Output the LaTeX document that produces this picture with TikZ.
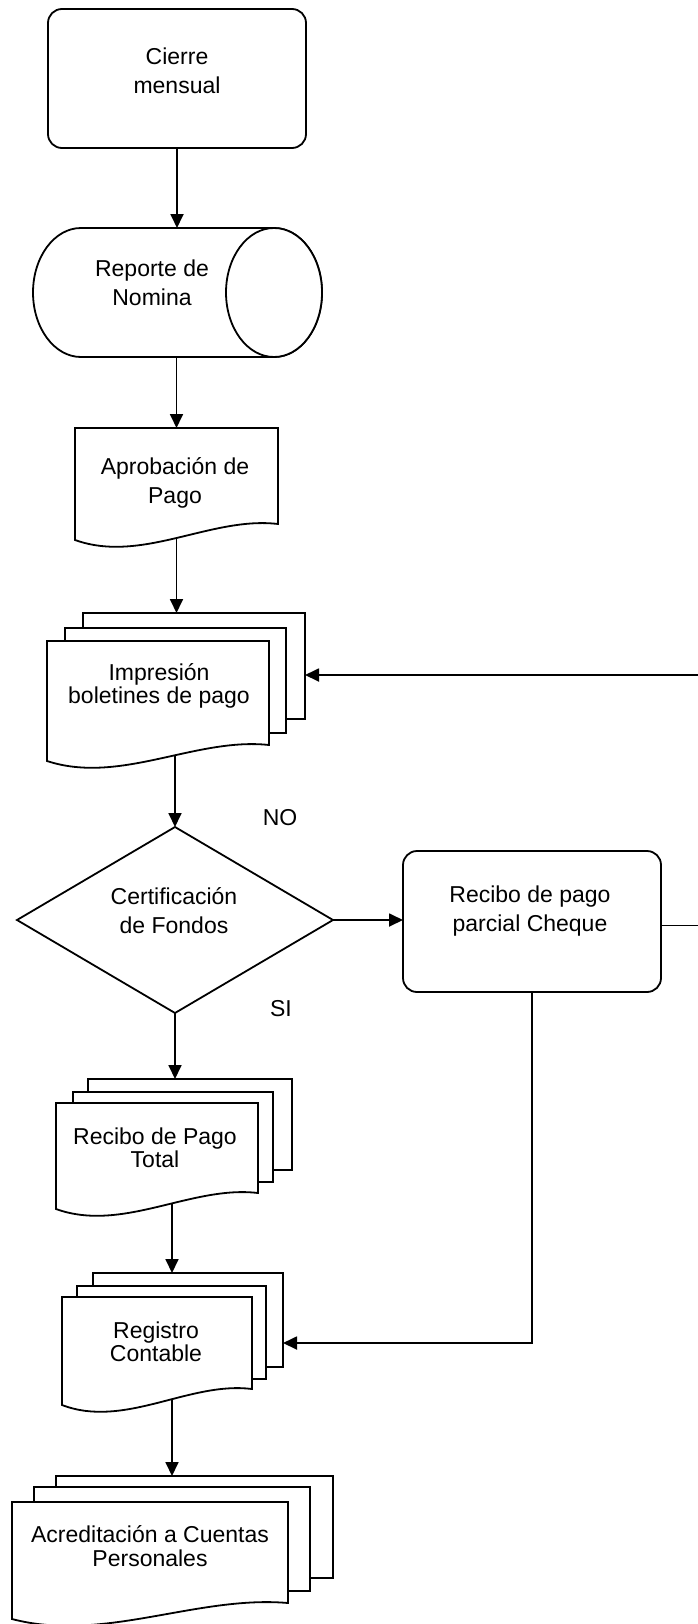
\documentclass[tikz,border=0pt]{standalone}
\usepackage{fontspec}
\setmainfont{Liberation Sans}
\usetikzlibrary{arrows.meta,shapes.geometric,calc}
\pgfdeclarelayer{backdrop}
\pgfdeclarelayer{links}
\pgfsetlayers{backdrop,links,main}

\tikzset{
  shapeline/.style={draw=black, line width=1.8pt, fill=white, line join=miter},
  bx/.style={rectangle, inner sep=0pt, outer sep=0pt},
  sheet/.style={bx, shapeline},
  procbox/.style={bx, shapeline, rounded corners=14pt},
  decision/.style={diamond, shapeline, inner sep=0pt, outer sep=0pt},
  txt/.style={inner sep=0pt, align=center, font=\fontsize{23}{29}\selectfont},
  txtm/.style={inner sep=0pt, align=center, font=\fontsize{23}{23.5}\selectfont},
  arrowline/.style={draw=black, line width=1.8pt, -{Triangle[length=14pt,width=13pt]}},
  plainline/.style={draw=black, line width=1.8pt},
}

% rectangle node given by its corners: name, x0, y0, x1, y1, style
\newcommand\sheetat[6]{%
  \node[#6, minimum width={(#4-#2)*1pt}, minimum height={(#5-#3)*1pt}]
    (#1) at ({(#2+#4)/2},{(#3+#5)/2}) {};}

% document outline with a wavy lower edge around a rectangle node
\newcommand\docoutline[1]{%
  \path[shapeline] (#1.north west) -- (#1.north east) -- (#1.south east)
    .. controls ($(#1.south west)!0.67!(#1.south east)+(0,-8)$)
            and ($(#1.south west)!0.33!(#1.south east)+(0,40)$)
    .. ($(#1.south west)+(0,16)$) -- cycle;}

\begin{document}
\begin{tikzpicture}[x=1pt,y=-1pt]
\useasboundingbox (0,0) rectangle (697,1624);
\begin{pgfonlayer}{backdrop}
  \fill[white] (0,0) rectangle (697,1624);
\end{pgfonlayer}

% Cierre mensual
\sheetat{cierre}{48}{9}{306}{148}{procbox}
\node[txt] (cierreT) at (177,71) {Cierre\\mensual};

% Reporte de Nomina (horizontal cylinder)
\sheetat{cyl}{81}{228}{274}{357}{bx}
\path[shapeline] (cyl.north east) -- (cyl.north west)
  arc[start angle=90, end angle=270, x radius=48pt, y radius=64.5pt]
  -- (cyl.south east)
  arc[start angle=-90, end angle=90, x radius=48pt, y radius=64.5pt] -- cycle;
\path[shapeline] (cyl.east) ellipse[x radius=48pt, y radius=64.5pt];
\node[txt] (cylT) at (152,283) {Reporte de\\Nomina};

% Aprobación de Pago
\sheetat{apr}{75}{428}{278}{524}{bx}
\docoutline{apr}
\node[txt] (aprT) at (175,483) {Aprobación de\\Pago};

% Impresión boletines de pago
\sheetat{impB}{83}{613}{305}{719}{sheet}
\sheetat{impM}{65}{628}{286}{733}{sheet}
\sheetat{impF}{47}{641}{269}{745}{bx}
\docoutline{impF}
\node[txtm] (impT) at (159,686) {Impresión\\boletines de pago};

% Certificación de Fondos
\node[decision, minimum width=316pt, minimum height=186pt] (dia) at (175,920) {};
\node[txt] (diaT) at (174,911) {Certificación\\de Fondos};
\node[txt] (no) at (280,818) {NO};
\node[txt] (si) at (281,1009) {SI};

% Recibo de pago parcial Cheque
\sheetat{rp}{403}{851}{661}{992}{procbox}
\node[txt] (rpT) at (530,911) {Recibo de pago\\parcial Cheque};

% Recibo de Pago Total
\sheetat{rtB}{88}{1079}{292}{1170}{sheet}
\sheetat{rtM}{73}{1092}{273}{1182}{sheet}
\sheetat{rtF}{56}{1103}{258}{1193}{bx}
\docoutline{rtF}
\node[txtm] (rtT) at (155,1148) {Recibo de Pago\\Total};

% Registro Contable
\sheetat{regB}{93}{1273}{283}{1367}{sheet}
\sheetat{regM}{77}{1286}{266}{1379}{sheet}
\sheetat{regF}{62}{1297}{252}{1389}{bx}
\docoutline{regF}
\node[txtm] (regT) at (156,1342) {Registro\\Contable};

% Acreditación a Cuentas Personales
\sheetat{acB}{56}{1476}{333}{1578}{sheet}
\sheetat{acM}{34}{1487}{310}{1591}{sheet}
\sheetat{acF}{12}{1502}{288}{1603}{bx}
\docoutline{acF}
\node[txtm] (acT) at (150,1546) {Acreditación a Cuentas\\Personales};

% connectors, kept beneath the shapes
\begin{pgfonlayer}{links}
  \coordinate (loopR) at (708,0);
  \coordinate (rpOut) at ([yshift=-4pt]rp.center);
  \coordinate (impIn) at ([yshift=-9pt]impB.east);
  \coordinate (regIn) at ([yshift=-23pt]regB.east);
  \coordinate (rtOut) at ([xshift=15pt]rtF.center);
  \coordinate (regOut) at ([xshift=15pt]regF.center);
  \draw[arrowline] (cierre.center) -- (cierre.center |- cyl.north);
  \draw[arrowline] (apr.center |- cyl.center) -- (apr.north);
  \draw[arrowline] (apr.center) -- (apr.center |- impB.north);
  \draw[arrowline] (dia.north |- impF.center) -- (dia.north);
  \draw[arrowline] (dia.east) -- (dia.east -| rp.west);
  \draw[arrowline] (rpOut) -- (rpOut -| loopR) -- (loopR |- impIn) -- (impIn);
  \draw[arrowline] (dia.center) -- (dia.center |- rtB.north);
  \draw[arrowline] (rtOut) -- (rtOut |- regB.north);
  \draw[arrowline] (rp.center) -- (rp.center |- regIn) -- (regIn);
  \draw[arrowline] (regOut) -- (regOut |- acB.north);
\end{pgfonlayer}
\end{tikzpicture}
\end{document}
